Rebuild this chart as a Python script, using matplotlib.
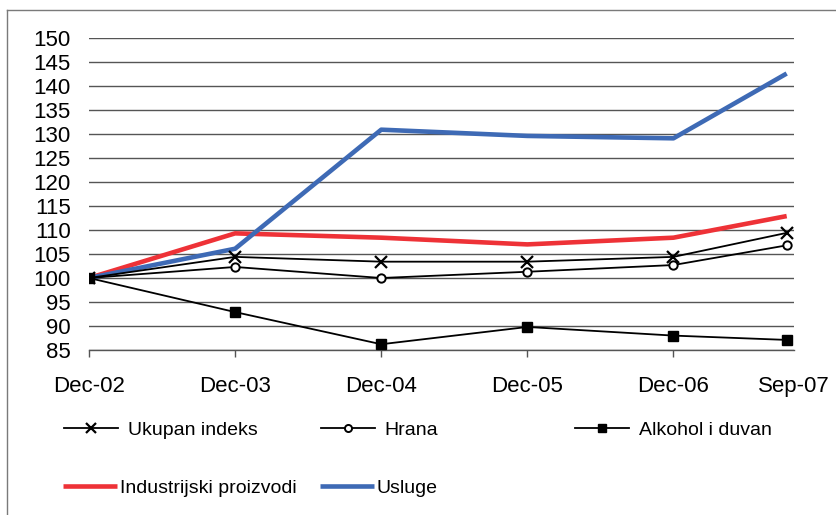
import matplotlib
matplotlib.use("Agg")
import matplotlib.pyplot as plt
from matplotlib.lines import Line2D

plt.rcParams['font.family'] = ['Liberation Sans', 'DejaVu Sans']

# ---- data ----
months = [0, 12, 24, 36, 48, 57.3]          # months since Dec-02
x_ticks = [0, 12, 24, 36, 48, 57.9]
x_labels = ["Dec-02", "Dec-03", "Dec-04", "Dec-05", "Dec-06", "Sep-07"]
y_ticks = list(range(85, 151, 5))

ukupan = [100, 104.4, 103.4, 103.4, 104.4, 109.4]
hrana = [100, 102.3, 100.0, 101.3, 102.7, 106.8]
alkohol = [100, 92.9, 86.2, 89.8, 88.0, 87.1]
industrijski = [100, 109.3, 108.4, 107.0, 108.4, 112.9]
usluge = [100, 106.1, 130.9, 129.6, 129.1, 142.6]

names = ["Ukupan indeks", "Hrana", "Alkohol i duvan",
         "Industrijski proizvodi", "Usluge"]

W, H = 837, 515
fig = plt.figure(figsize=(W / 100, H / 100), dpi=100)

# outer border (left + top visible)
fig.add_artist(Line2D([7 / W, 7 / W], [0, 1 - 10 / H], transform=fig.transFigure,
                      color="#7a7a7a", lw=1.0))
fig.add_artist(Line2D([7 / W, 1], [1 - 10 / H, 1 - 10 / H], transform=fig.transFigure,
                      color="#7a7a7a", lw=1.0))

left, right, top, bottom = 89, 794, 38, 350
ax = fig.add_axes([left / W, 1 - bottom / H, (right - left) / W, (bottom - top) / H])
ax.set_xlim(0, 57.9)
ax.set_ylim(85, 150)

for y in y_ticks:
    ax.axhline(y, color="#555555", lw=1.0, zorder=1)

blue = "#3E6AB5"
red = "#EE3237"
h_red, = ax.plot(months, industrijski, color=red, lw=3.3, zorder=3,
                 solid_capstyle="butt", solid_joinstyle="round")
h_blue, = ax.plot(months, usluge, color=blue, lw=3.3, zorder=4,
                  solid_capstyle="butt", solid_joinstyle="round")
h_uk, = ax.plot(months, ukupan, color="black", lw=1.3, marker="x", ms=8,
                mew=1.6, zorder=5)
h_hr, = ax.plot(months, hrana, color="black", lw=1.3, marker="o", ms=6,
                mfc="white", mec="black", mew=1.4, zorder=5)
h_al, = ax.plot(months, alkohol, color="black", lw=1.3, marker="s", ms=7,
                mfc="black", mec="black", zorder=5)

for s in ["top", "right", "left"]:
    ax.spines[s].set_visible(False)
ax.spines["bottom"].set_color("#555555")
ax.spines["bottom"].set_linewidth(1.0)

ax.set_yticks(y_ticks)
ax.set_yticklabels([str(v) for v in y_ticks])
ax.tick_params(axis="y", length=0, pad=13, labelsize=16)
ax.set_xticks(x_ticks)
ax.set_xticklabels(x_labels)
ax.tick_params(axis="x", length=5, width=1, color="#555555", pad=14, labelsize=16,
               direction="out")
ax.xaxis.get_major_ticks()[-1].tick1line.set_visible(False)

# legend entries placed individually
entries = [
    (h_uk, names[0], 64, 430, 0.5),
    (h_hr, names[1], 321, 430, 0.45),
    (h_al, names[2], 575, 430, 0.5),
    (h_red, names[3], 63, 488, 0.15),
    (h_blue, names[4], 320, 488, 0.1),
]
for h, lab, xp, yp, pad in entries:
    fig.legend([h], [lab], loc="center left",
               bbox_to_anchor=(xp / W, 1 - yp / H),
               bbox_transform=fig.transFigure,
               frameon=False, borderpad=0, borderaxespad=0,
               handlelength=2.8, handletextpad=pad, fontsize=14,
               markerscale=0.85)

fig.savefig("out.png", dpi=100)
